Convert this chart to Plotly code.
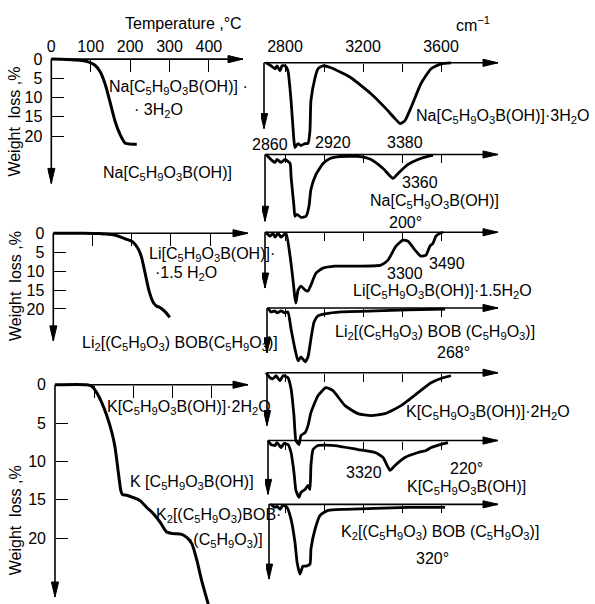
import plotly.graph_objects as go

W, H = 595, 604
FONT = "Liberation Sans, Arial, sans-serif"
FS = 16

# ---------------- Data ----------------
# Thermogravimetric curves: temperature (degC) vs weight loss (%)
na_temp = [0, 39, 73, 94, 111, 124, 136, 149, 162, 175, 187, 200, 217]
na_loss = [0, 0.1, 0.3, 0.7, 1.6, 3.3, 6.3, 11.1, 16.2, 19.7, 21.8, 22.1, 22.1]

li_temp = [0, 76, 119, 153, 187, 204, 217, 225, 231, 238, 245, 255, 263, 272, 285, 297]
li_loss = [0, 0, 0.1, 0.4, 1.6, 2.4, 4.2, 6.3, 9.0, 12.4, 15.5, 18.3, 19.2, 19.6, 20.7, 22.2]

k_temp = [0, 81, 94, 106, 119, 132, 145, 153, 162, 168, 172, 183, 200, 217, 234, 251,
          268, 285, 302, 323, 336, 349, 362, 374, 391]
k_loss = [0, 0, 0.2, 1.0, 2.3, 4.0, 6.2, 8.1, 11.6, 13.8, 14.3, 14.4, 14.7, 15.1, 16.0, 16.8,
          17.9, 19.2, 19.4, 19.5, 19.9, 20.7, 22.9, 25.5, 28.6]

tga_ticks_T = [0, 100, 200, 300, 400]
tga_ticks_W = [0, 5, 10, 15, 20]
ir_ticks = [2800, 3000, 3200, 3400, 3600]
ir_ticktext = ["2800", "", "3200", "", "3600"]

# IR spectra: wavenumber (cm-1) vs absorption depth (arb. units)
ir1_nu = [2703, 2728, 2749, 2759, 2774, 2785, 2800, 2815, 2831, 2846, 2851, 2867, 2882, 2903,
          2918, 2928, 2933, 2954, 2969, 2995, 3036, 3138, 3241, 3313, 3364, 3390, 3415, 3446,
          3497, 3549, 3600, 3651]
ir1_d = [0, 3, 6, 3, 8, 3, 3, 8, 38, 78, 85, 81, 83, 81, 81, 68, 38, 15, 6, 3, 5, 15, 31, 45,
         56, 61, 58, 45, 21, 6, 1, 0]

ir2_nu = [2703, 2728, 2749, 2759, 2780, 2800, 2826, 2831, 2846, 2851, 2861, 2882, 2908, 2923,
          2933, 2959, 2995, 3031, 3082, 3174, 3241, 3303, 3354, 3380, 3431, 3482, 3533, 3559]
ir2_d = [0, 5, 8, 5, 8, 5, 9, 22, 52, 62, 60, 63, 62, 52, 35, 20, 9, 4, 2, 2, 5, 14, 24, 19,
         10, 5, 2, 1]

ir3_nu = [2703, 2723, 2738, 2749, 2764, 2780, 2805, 2826, 2841, 2851, 2856, 2867, 2882, 2903,
          2918, 2933, 2959, 2995, 3056, 3174, 3292, 3328, 3369, 3405, 3431, 3467, 3497, 3523,
          3543, 3559, 3574, 3595, 3610]
ir3_d = [0, 4, 1, 5, 1, 5, 1, 24, 48, 66, 71, 58, 54, 58, 59, 53, 41, 36, 34, 34, 33, 28, 14,
         8, 9, 18, 24, 23, 14, 11, 4, 1, 0]

ir4_nu = [2713, 2728, 2749, 2759, 2780, 2800, 2815, 2831, 2851, 2867, 2882, 2903, 2918, 2933,
          2949, 2969, 3005, 3087, 3262, 3431, 3621]
ir4_d = [0, 4, 3, 5, 3, 5, 4, 21, 41, 53, 49, 54, 49, 31, 14, 8, 6, 4, 3, 2, 1]

ir5_nu = [2703, 2723, 2738, 2754, 2774, 2790, 2815, 2831, 2846, 2856, 2872, 2882, 2903, 2918,
          2933, 2969, 3010, 3046, 3108, 3174, 3241, 3313, 3395, 3482, 3549, 3610, 3651]
ir5_d = [0, 5, 6, 3, 8, 3, 5, 16, 43, 68, 72, 63, 60, 53, 40, 23, 15, 18, 33, 41, 43, 41, 33,
         20, 10, 5, 3]

ir6_nu = [2713, 2728, 2749, 2759, 2780, 2795, 2815, 2831, 2846, 2856, 2872, 2882, 2903, 2918,
          2928, 2933, 2944, 2969, 3056, 3174, 3262, 3303, 3339, 3364, 3415, 3482, 3523, 3549,
          3595, 3636]
ir6_d = [0, 4, 5, 2, 7, 3, 4, 12, 32, 50, 57, 52, 49, 45, 49, 25, 9, 5, 5, 9, 12, 17, 30, 25,
         17, 12, 10, 7, 4, 2]

ir7_nu = [2728, 2749, 2759, 2774, 2790, 2810, 2831, 2851, 2862, 2877, 2892, 2908, 2928, 2933,
          2954, 2980, 3021, 3108, 3262, 3431, 3621]
ir7_d = [0, 3, 2, 5, 1, 3, 15, 38, 58, 70, 62, 62, 60, 45, 25, 11, 6, 5, 4, 3, 3]

# ---------------- Layout helpers (pixel geometry) ----------------
def dom_x(a, b):
    return [max(0, a / W), min(1, b / W)]


def dom_y(top, bottom):
    return [max(0, 1 - bottom / H), min(1, 1 - top / H)]


fig = go.Figure()
layout = dict(width=W, height=H, margin=dict(l=0, r=0, t=0, b=0), autosize=False,
              paper_bgcolor="white", plot_bgcolor="rgba(0,0,0,0)", showlegend=False,
              font=dict(family=FONT, size=FS, color="black"))
shapes = []
annotations = []


def axis_arrow(xref, yref, x0, y0, x1, y1, direction):
    shapes.append(dict(type="line", xref=xref, yref=yref, x0=x0, y0=y0, x1=x1, y1=y1,
                       line=dict(color="black", width=1.6)))
    if direction == "right":
        path = "M0,0 L-15,-3.6 L-15,3.6 Z"
    else:
        path = "M0,0 L-3.6,15 L3.6,15 Z"
    shapes.append(dict(type="path", xref=xref, yref=yref, xsizemode="pixel", ysizemode="pixel",
                       xanchor=x1, yanchor=y1, path=path, fillcolor="black",
                       line=dict(color="black", width=1)))


def tga_panel(i, temp, loss, ox, oy, sx, sy, xtip_px, ytip_px, ybot_px, show_x):
    xl, xh = ox - 4, xtip_px + 5
    yt, yb = oy - 6, ybot_px
    layout[f"xaxis{i}"] = dict(
        domain=dom_x(xl, xh), range=[(xl - ox) / sx, (xh - ox) / sx], anchor="free",
        position=1 - oy / H, side="top", ticks="inside", ticklen=12, tickwidth=1.4,
        tickcolor="black", tickvals=tga_ticks_T if show_x else tga_ticks_T[1:],
        showticklabels=show_x, showgrid=False, zeroline=False, showline=False,
        tickfont=dict(size=FS), ticklabelstandoff=4)
    layout[f"yaxis{i}"] = dict(
        domain=dom_y(yt, yb), range=[(yb - oy) / sy, (yt - oy) / sy], anchor="free",
        position=ox / W, side="left", ticks="inside", ticklen=12, tickwidth=1.4,
        tickcolor="black", tickvals=tga_ticks_W, showgrid=False, zeroline=False,
        showline=False, tickfont=dict(size=FS), ticklabelstandoff=9)
    fig.add_trace(go.Scatter(x=temp, y=loss, xaxis=f"x{i}", yaxis=f"y{i}", mode="lines",
                             line=dict(color="black", width=3, shape="spline", smoothing=0.7),
                             hoverinfo="skip"))
    axis_arrow(f"x{i}", f"y{i}", 0, 0, (xtip_px - ox) / sx, 0, "right")
    axis_arrow(f"x{i}", f"y{i}", 0, 0, 0, (ytip_px - oy) / sy, "down")


tga_panel(1, na_temp, na_loss, 51.3, 57.3, 0.394, 3.86, 243, 182, 188, True)
tga_panel(2, li_temp, li_loss, 53.3, 232, 0.392, 3.8, 248, 340, 345, False)
tga_panel(3, k_temp, k_loss, 55, 384, 0.392, 7.7, 248, 597, 604, False)

# IR panels
NU_REF, REF_PX, SX_IR = 3200, 363, 0.195
IR_TIP_PX = 498
ir_baseline_px = [61, 153, 231, 307, 372, 440, 504]
ir_origin_px = [264, 265, 265, 267, 267, 268, 269]
ir_arrow_depth = [66, 67, 56, 45, 53, 54, 75]
ir_series = [(ir1_nu, ir1_d), (ir2_nu, ir2_d), (ir3_nu, ir3_d), (ir4_nu, ir4_d),
             (ir5_nu, ir5_d), (ir6_nu, ir6_d), (ir7_nu, ir7_d)]


def px2nu(px):
    return NU_REF + (px - REF_PX) / SX_IR


for k, (nu, d) in enumerate(ir_series):
    i = 4 + k
    base = ir_baseline_px[k]
    ox = ir_origin_px[k]
    xl, xh = ox - 3, IR_TIP_PX + 5
    yt, yb = base - 6, min(H, base + 92)
    layout[f"xaxis{i}"] = dict(
        domain=dom_x(xl, xh), range=[px2nu(xl), px2nu(xh)], anchor="free",
        position=1 - base / H, side="top", ticks="inside", ticklen=8, tickwidth=1.4,
        tickcolor="black", tickvals=ir_ticks, ticktext=ir_ticktext,
        showticklabels=(k == 0), showgrid=False, zeroline=False, showline=False,
        tickfont=dict(size=FS), ticklabelstandoff=8)
    layout[f"yaxis{i}"] = dict(
        domain=dom_y(yt, yb), range=[yb - base, yt - base], anchor=f"x{i}",
        showticklabels=False, ticks="", showgrid=False, zeroline=False, showline=False)
    fig.add_trace(go.Scatter(x=nu, y=d, xaxis=f"x{i}", yaxis=f"y{i}", mode="lines",
                             line=dict(color="black", width=2.8, shape="spline", smoothing=0.5),
                             hoverinfo="skip"))
    nu0 = px2nu(ox)
    axis_arrow(f"x{i}", f"y{i}", nu0, 0, px2nu(IR_TIP_PX), 0, "right")
    axis_arrow(f"x{i}", f"y{i}", nu0, 0, nu0, ir_arrow_depth[k], "down")


# ---------------- Text labels ----------------
def label(text, x, y, anchor="center", angle=0, size=FS):
    annotations.append(dict(text=text, x=x / W, y=1 - y / H, xref="paper", yref="paper",
                            xanchor=anchor, yanchor="middle", showarrow=False,
                            textangle=angle, font=dict(size=size, family=FONT, color="black")))


NA = "Na[C<sub>5</sub>H<sub>9</sub>O<sub>3</sub>B(OH)]"
LI = "Li[C<sub>5</sub>H<sub>9</sub>O<sub>3</sub>B(OH)]"
K = "K[C<sub>5</sub>H<sub>9</sub>O<sub>3</sub>B(OH)]"
C5 = "(C<sub>5</sub>H<sub>9</sub>O<sub>3</sub>)"

label("Temperature ,°C", 183, 22)
label("cm<sup>−1</sup>", 473, 22)
label("Weight  loss ,%", 15, 120, angle=-90)
label("Weight  loss ,%", 15, 285, angle=-90)
label("Weight  loss ,%", 15, 520, angle=-90)

label(NA + " ·", 178, 86)
label("· 3H<sub>2</sub>O", 158, 109)
label(NA, 167, 172)
label(LI + "·", 147, 253, anchor="left")
label("·1.5 H<sub>2</sub>O", 186, 272)
label("Li<sub>2</sub>[" + C5 + " BOB" + C5 + "]", 80, 343, anchor="left")
label(K + "·2H<sub>2</sub>O", 105, 407, anchor="left")
label("K [C<sub>5</sub>H<sub>9</sub>O<sub>3</sub>B(OH)]", 128, 482, anchor="left")
label("K<sub>2</sub>[" + C5 + "BOB·", 154, 515, anchor="left")
label("·" + C5 + "]", 186, 540, anchor="left")

label(NA + "·3H<sub>2</sub>O", 414, 115, anchor="left")
label("2860", 270, 143)
label("2920", 333, 141)
label("3380", 405, 141)
label("3360", 420, 181)
label(NA, 434, 200)
label("200°", 405, 221)
label("3300", 405, 272)
label("3490", 447, 262)
label(LI + "·1.5H<sub>2</sub>O", 442, 290)
label("Li<sub>2</sub>[" + C5 + " BOB " + C5 + "]", 435, 332)
label("268°", 453, 352)
label(K + "·2H<sub>2</sub>O", 488, 412)
label("3320", 364, 472)
label("220°", 466, 468)
label(K, 466, 487)
label("K<sub>2</sub>[" + C5 + " BOB " + C5 + "]", 440, 532)
label("320°", 432, 558)

layout["shapes"] = shapes
layout["annotations"] = annotations
fig.update_layout(**layout)
fig.write_html("out.html", config={"displayModeBar": False},
               post_script="document.body.style.margin='0';document.body.style.padding='0';")
